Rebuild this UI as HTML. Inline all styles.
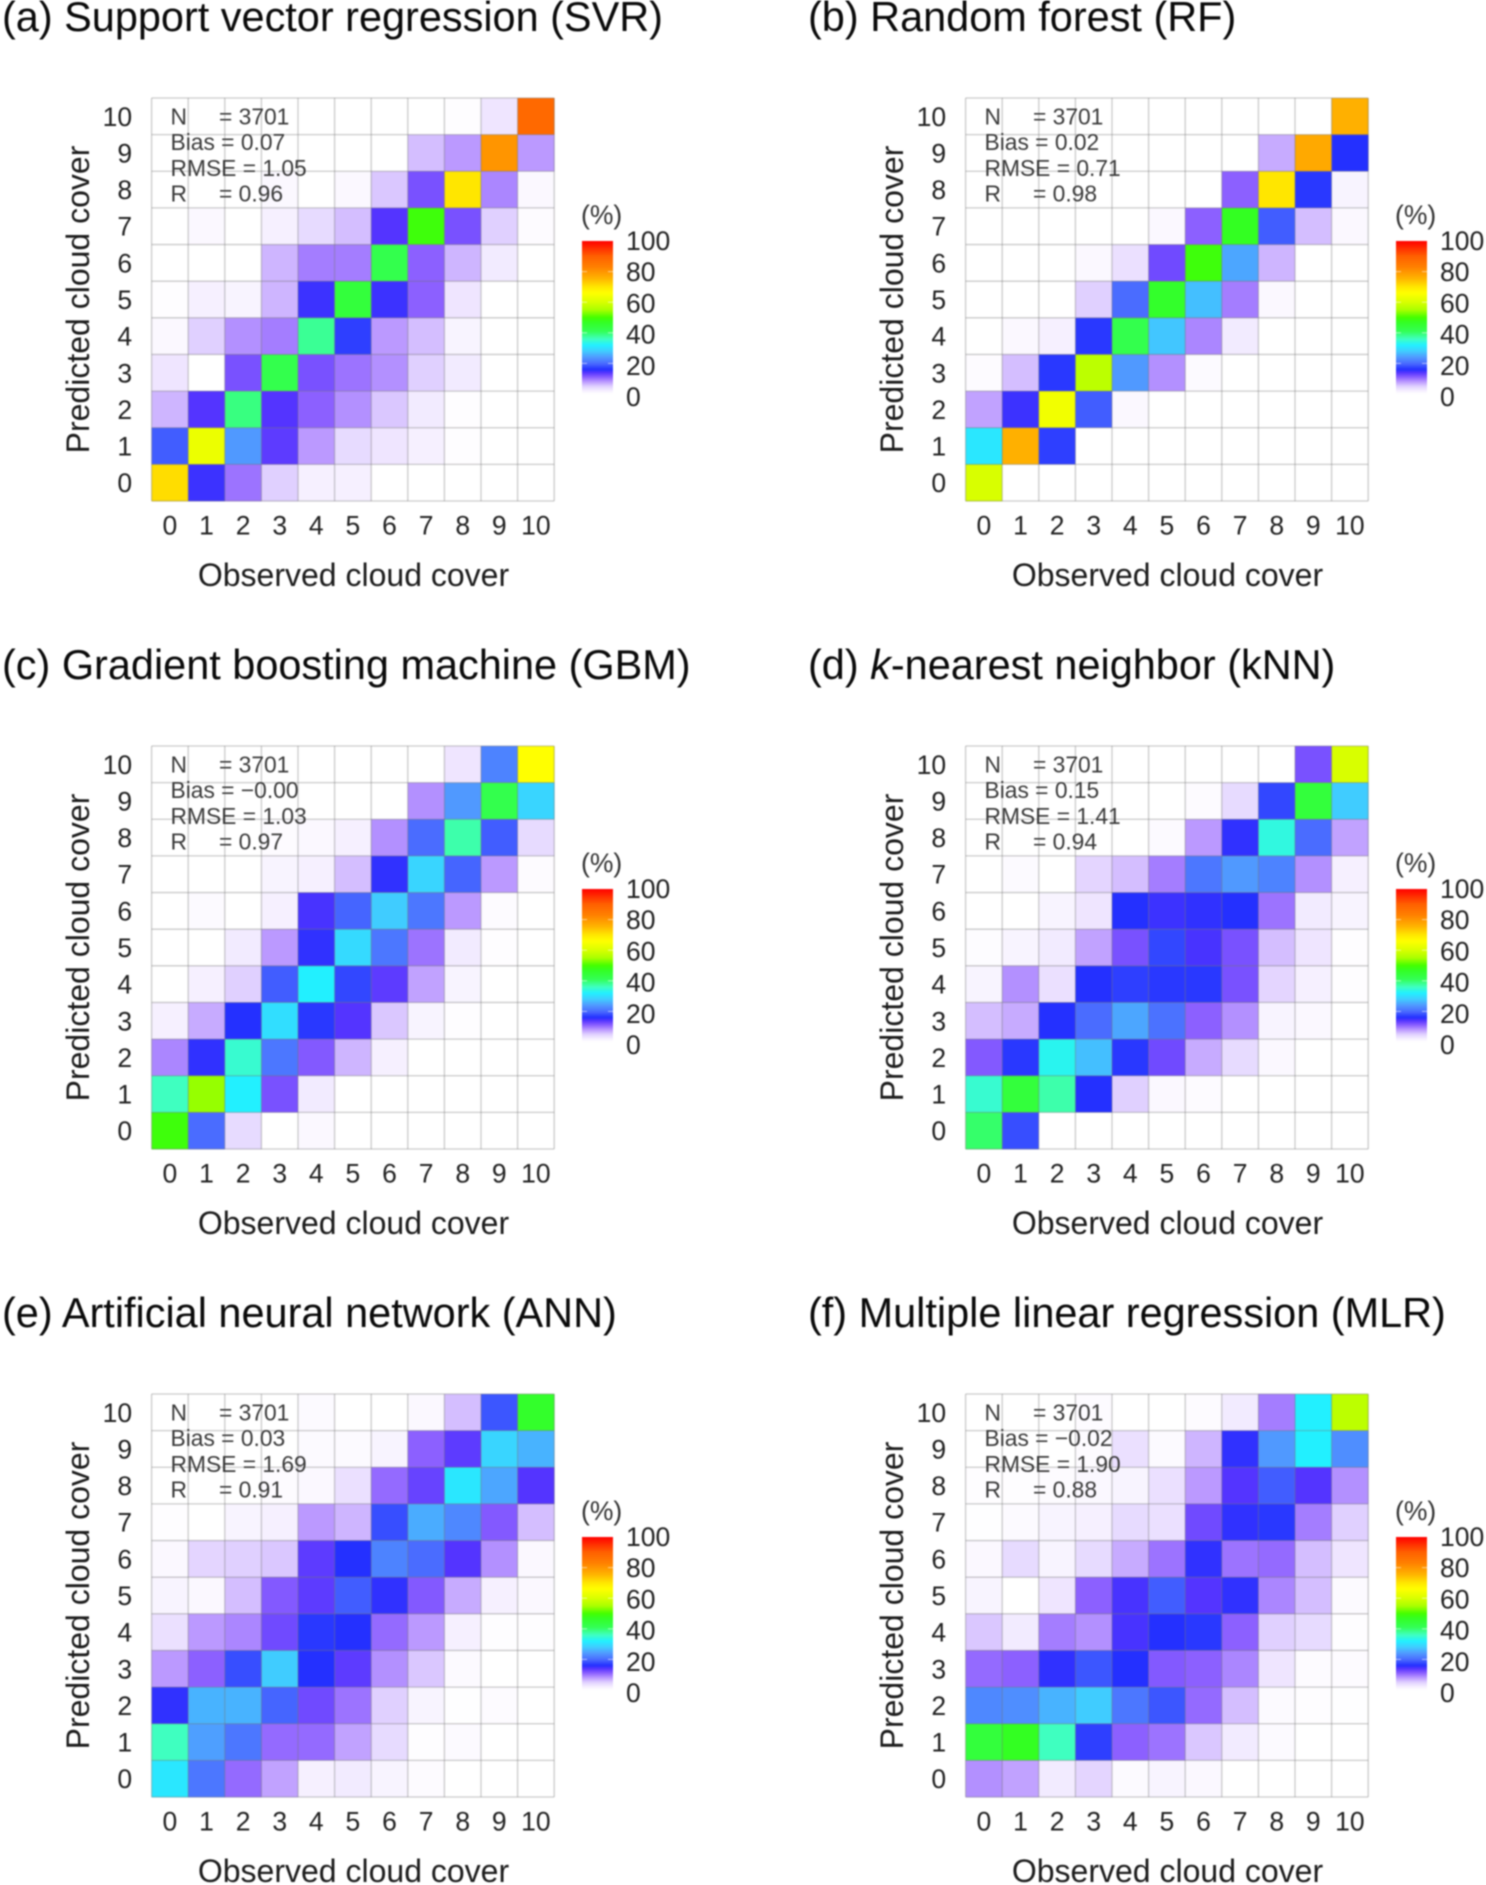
<!DOCTYPE html>
<html lang="en">
<head>
<meta charset="utf-8">
<title>Predicted vs observed cloud cover heatmaps</title>
<style>
html,body{margin:0;padding:0;background:#fff;}
body{width:1486px;height:1885px;overflow:hidden;}
svg{display:block;filter:blur(.7px);font-family:"Liberation Sans",Arial,sans-serif;}
.title{font-size:41.45px;fill:#0a0a0a;}
.axis-title{font-size:32px;fill:#1c1c1c;}
.tick{font-size:26.5px;fill:#222;}
.stat{font-size:22.8px;fill:#3a3a3a;}
.unit{font-size:26.5px;fill:#333;}
</style>
</head>
<body>
<svg id="fig" xmlns="http://www.w3.org/2000/svg" width="1486" height="1885" viewBox="0 0 1486 1885">
<defs id="defs"></defs>
<rect width="1486" height="1885" fill="#fff"/>

<g id="panel-a" transform="translate(0,0)">
  <g class="marks"></g>
  <text class="title" x="2" y="31">(a) Support vector regression (SVR)</text>
  <text class="stat" x="170.5" y="124.5">N</text><text class="stat" x="219" y="124.5">= 3701</text>
  <text class="stat" x="170.5" y="150">Bias = 0.07</text>
  <text class="stat" x="170.5" y="176">RMSE = 1.05</text>
  <text class="stat" x="170.5" y="201.5">R</text><text class="stat" x="219" y="201.5">= 0.96</text>
  <text class="axis-title" x="353.5" y="586" text-anchor="middle">Observed cloud cover</text>
  <text class="axis-title" transform="translate(89,299.5) rotate(-90)" text-anchor="middle">Predicted cloud cover</text>
  <text class="unit" x="581" y="224">(%)</text>
</g>

<g id="panel-b" transform="translate(814,0)">
  <g class="marks"></g>
  <text class="title" x="-6" y="31">(b) Random forest (RF)</text>
  <text class="stat" x="170.5" y="124.5">N</text><text class="stat" x="219" y="124.5">= 3701</text>
  <text class="stat" x="170.5" y="150">Bias = 0.02</text>
  <text class="stat" x="170.5" y="176">RMSE = 0.71</text>
  <text class="stat" x="170.5" y="201.5">R</text><text class="stat" x="219" y="201.5">= 0.98</text>
  <text class="axis-title" x="353.5" y="586" text-anchor="middle">Observed cloud cover</text>
  <text class="axis-title" transform="translate(89,299.5) rotate(-90)" text-anchor="middle">Predicted cloud cover</text>
  <text class="unit" x="581" y="224">(%)</text>
</g>

<g id="panel-c" transform="translate(0,648)">
  <g class="marks"></g>
  <text class="title" x="2" y="31">(c) Gradient boosting machine (GBM)</text>
  <text class="stat" x="170.5" y="124.5">N</text><text class="stat" x="219" y="124.5">= 3701</text>
  <text class="stat" x="170.5" y="150">Bias = −0.00</text>
  <text class="stat" x="170.5" y="176">RMSE = 1.03</text>
  <text class="stat" x="170.5" y="201.5">R</text><text class="stat" x="219" y="201.5">= 0.97</text>
  <text class="axis-title" x="353.5" y="586" text-anchor="middle">Observed cloud cover</text>
  <text class="axis-title" transform="translate(89,299.5) rotate(-90)" text-anchor="middle">Predicted cloud cover</text>
  <text class="unit" x="581" y="224">(%)</text>
</g>

<g id="panel-d" transform="translate(814,648)">
  <g class="marks"></g>
  <text class="title" x="-6" y="31">(d) <tspan font-style="italic">k</tspan>-nearest neighbor (kNN)</text>
  <text class="stat" x="170.5" y="124.5">N</text><text class="stat" x="219" y="124.5">= 3701</text>
  <text class="stat" x="170.5" y="150">Bias = 0.15</text>
  <text class="stat" x="170.5" y="176">RMSE = 1.41</text>
  <text class="stat" x="170.5" y="201.5">R</text><text class="stat" x="219" y="201.5">= 0.94</text>
  <text class="axis-title" x="353.5" y="586" text-anchor="middle">Observed cloud cover</text>
  <text class="axis-title" transform="translate(89,299.5) rotate(-90)" text-anchor="middle">Predicted cloud cover</text>
  <text class="unit" x="581" y="224">(%)</text>
</g>

<g id="panel-e" transform="translate(0,1296)">
  <g class="marks"></g>
  <text class="title" x="2" y="31">(e) Artificial neural network (ANN)</text>
  <text class="stat" x="170.5" y="124.5">N</text><text class="stat" x="219" y="124.5">= 3701</text>
  <text class="stat" x="170.5" y="150">Bias = 0.03</text>
  <text class="stat" x="170.5" y="176">RMSE = 1.69</text>
  <text class="stat" x="170.5" y="201.5">R</text><text class="stat" x="219" y="201.5">= 0.91</text>
  <text class="axis-title" x="353.5" y="586" text-anchor="middle">Observed cloud cover</text>
  <text class="axis-title" transform="translate(89,299.5) rotate(-90)" text-anchor="middle">Predicted cloud cover</text>
  <text class="unit" x="581" y="224">(%)</text>
</g>

<g id="panel-f" transform="translate(814,1296)">
  <g class="marks"></g>
  <text class="title" x="-6" y="31">(f) Multiple linear regression (MLR)</text>
  <text class="stat" x="170.5" y="124.5">N</text><text class="stat" x="219" y="124.5">= 3701</text>
  <text class="stat" x="170.5" y="150">Bias = −0.02</text>
  <text class="stat" x="170.5" y="176">RMSE = 1.90</text>
  <text class="stat" x="170.5" y="201.5">R</text><text class="stat" x="219" y="201.5">= 0.88</text>
  <text class="axis-title" x="353.5" y="586" text-anchor="middle">Observed cloud cover</text>
  <text class="axis-title" transform="translate(89,299.5) rotate(-90)" text-anchor="middle">Predicted cloud cover</text>
  <text class="unit" x="581" y="224">(%)</text>
</g>
</svg>

<script>
// Categories and tick labels
const cloudCategories = [0,1,2,3,4,5,6,7,8,9,10];
const colorbarTicks = [100,80,60,40,20,0];

// Percent per cell. Rows run from predicted 10 (first) down to predicted 0 (last);
// columns run from observed 0 to observed 10.
const valuesSVR = [
 [0,0,0,0,0,0,0,0,.3,3,88],
 [0,0,0,0,0,0,0,6,8,80,8],
 [0,0,0,1,0,1,5.5,12,70,9,1],
 [0,1,0,2,4,6,14,49,12,5,.5],
 [0,0,0,6.5,9.5,9.5,42,11,6.5,2.5,0],
 [.3,2,1.5,6.5,15,44,15,11,3,0,0],
 [1,5,8.5,9.5,38,17,8,6,1.5,0,0],
 [3,0,12,42,12,10,8.5,5,2.5,0,0],
 [6.5,14,39,14,11,8.5,5.5,2.5,.3,0,0],
 [19,63,24,13.5,8,4,3,2,.3,0,0],
 [71,15,10,5,2,2,0,0,0,0,0]
];
const valuesRF = [
 [0,0,0,0,0,0,0,0,0,0,76],
 [0,0,0,0,0,0,0,0,7,77,16],
 [0,0,0,0,0,0,0,11,70,16.5,1.5],
 [0,0,0,0,0,1,11,47,19,6,1],
 [0,0,0,1,3.5,12.5,49,25,6.5,0,0],
 [0,0,0,5,20,46,27,9.5,1,0,0],
 [0,1,2,16.5,42,27.5,9,2.5,0,0,0],
 [.5,6,16.5,57,24,8.5,.7,0,0,0,0],
 [7.5,15,64,19,1,0,0,0,0,0,0],
 [31,76,17,0,0,0,0,0,0,0,0],
 [60,0,0,0,0,0,0,0,0,0,0]
];
const valuesGBM = [
 [0,0,0,0,0,0,0,0,3,22,66],
 [0,0,0,0,0,0,0,8.5,24,42,29],
 [0,0,0,.5,1,2,8.5,20,37,19,4],
 [0,0,0,1.5,2,6,15.5,29,19.5,8,.5],
 [0,.7,0,2,14.5,19.5,28,21,8,.5,0],
 [0,0,2.5,8,15.5,29.5,21,10,2.5,.3,0],
 [0,2,5,19,32,17.5,13.5,7.5,1.5,0,0],
 [2,7,16,30,16.5,14,5.5,1.5,.3,0,0],
 [9,15.5,35,21,11.5,6.5,2,0,0,0,0],
 [36,54,32,12,2.5,0,0,0,0,0,0],
 [49,20,4,0,1,0,0,0,0,0,0]
];
const valuesKNN = [
 [0,0,0,0,0,0,0,0,0,12,60],
 [0,0,0,0,0,0,.5,4,17.5,44,28],
 [0,0,0,0,0,.7,8,15.5,34,20,7.5],
 [0,.7,0,4.5,6,9.5,21,24,22,8.5,2],
 [0,0,1.5,3,16,15,15.5,16,10,2.5,1.5],
 [.4,1.5,2.5,7.5,12,17.5,14.5,12,6,3,.3],
 [1.5,8.5,3.5,16,17,16.5,16.5,12,4.5,2,.3],
 [6,7,16,20,25,20.5,11,8.5,1.5,1,0],
 [11.5,16.5,33,27,16.5,12.5,7,4,1,0,0],
 [35,44,37,16,5,1,.5,0,0,0,0],
 [40,18,0,0,0,0,0,0,0,0,0]
];
const valuesANN = [
 [0,0,0,0,.7,0,0,1,6,18.5,46],
 [0,0,0,0,.7,.7,1.5,11,13.5,29,26],
 [0,0,0,.5,1,3.5,10.5,13,31,25,14],
 [.3,0,1.5,2,8,6.5,18,25.5,22.5,11.5,6],
 [1,4.5,5,5.5,13.5,16,22,20,14,8.5,1],
 [1.5,1,6,11.5,13.5,19,15.5,11.5,7,2,1],
 [3.5,8,9,12.5,16.5,16,10.5,8,2,.3,.3],
 [8,11,18,28,16,13.5,8.5,5.5,.7,0,0],
 [15.5,26,26,19.5,12.5,10,5,1.5,.2,.5,0],
 [36,24.5,21,10.5,10.5,7.5,4,.3,.7,0,0],
 [31,21,10.5,7.5,2,2.5,1.5,.5,0,0,0]
];
const valuesMLR = [
 [0,0,0,.5,0,0,.5,2.5,9.5,32,57],
 [0,0,0,.5,3.5,.7,6.5,15.5,24,32,23],
 [.3,.3,.5,1,1.5,3.5,8,14,19,14,8.5],
 [.2,.7,1.5,2,4,3.5,12.5,15.5,16.5,9.5,5],
 [1,4,1.5,4,7,10,15.5,10,10.5,6,3],
 [1.5,0,3,11,14.5,19,14,15.5,9,6,.7],
 [5.5,2.5,9.5,8.5,14.5,16,16.5,11,5,4,.3],
 [10.5,11,15.5,18.5,16,11.5,11,9,3,.5,.5],
 [22.5,23,26,28,21,18.5,10.5,6,.7,.3,.2],
 [44,47,36,17,11,10,5.5,2.5,.7,0,0],
 [8.5,7.5,2.5,4.5,.7,1.5,1,0,0,0,0]
];

// Colour scale breakpoints
const scaleValues = [0,2,5,8,11,14,16,20,24,28,32,36,41,47,50,55,60,66,70,76,83,90,100];
const scaleColors = ["#ffffff","#f6f0ff","#e0d0ff","#bb99ff","#8c60ff","#5434ff","#2430ff","#4a6cff","#5099ff","#40ccff","#22f0ff","#3fffc0","#33ff55","#33ff22","#44ff00","#aaff00","#d8ff00","#ffff00","#ffe600","#ffb000","#ff8000","#ff6000","#ff0000"];

const NS = "http://www.w3.org/2000/svg";
const plotLeft = 151.6, plotTop = 98, plotWidth = 402.6, plotHeight = 403;
const barLeft = 582, barWidth = 31, barBottom = 394, barHeight = 153;
const cats = cloudCategories.length;

function xAxis(i){ return plotLeft + i * plotWidth / cats; }
function yAxis(i){ return plotTop + (cats - 1 - i) * plotHeight / cats; }
function barAxis(v){ return barBottom - v / 100 * barHeight; }

function hexToRgb(h){ return [1,3,5].map(function(k){ return parseInt(h.substr(k,2),16); }); }
function colorFor(v){
  if(v <= scaleValues[0]) return scaleColors[0];
  for(let k = 1; k < scaleValues.length; k++){
    if(v <= scaleValues[k]){
      const t = (v - scaleValues[k-1]) / (scaleValues[k] - scaleValues[k-1]);
      const a = hexToRgb(scaleColors[k-1]), b = hexToRgb(scaleColors[k]);
      return "rgb(" + a.map(function(c,n){ return Math.round(c + (b[n]-c)*t); }).join(",") + ")";
    }
  }
  return scaleColors[scaleColors.length-1];
}
function make(tag, parent, props, text){
  const el = document.createElementNS(NS, tag);
  for(const p in props){ el.setAttribute(p, props[p]); }
  if(text !== undefined){ el.textContent = text; }
  parent.appendChild(el);
  return el;
}

// Shared colour-bar gradient
const defs = document.getElementById("defs");
const grad = make("linearGradient", defs, {id:"bar-gradient", x1:0, y1:1, x2:0, y2:0});
scaleValues.forEach(function(v, k){
  make("stop", grad, {offset:(v/100), "stop-color":scaleColors[k]});
});

function drawPanel(panelId, key, rows){
  const panel = document.getElementById(panelId);
  const g = panel.querySelector(".marks");

  rows.forEach(function(row, r){
    const pred = cats - 1 - r;
    row.forEach(function(v, obs){
      const cell = make("rect", g, {x:xAxis(obs), y:yAxis(pred), width:plotWidth/cats + .3, height:plotHeight/cats + .3, fill:colorFor(v)});
      
      
    });
  });

  for(let i = 0; i <= cats; i++){
    const vx = plotLeft + i * plotWidth / cats;
    const vLine = make("line", g, {x1:vx, x2:vx, y1:plotTop, y2:plotTop+plotHeight, stroke:"#777", "stroke-opacity":.38, "stroke-width":1.3});
    
    
    const hy = plotTop + i * plotHeight / cats;
    const hLine = make("line", g, {x1:plotLeft, x2:plotLeft+plotWidth, y1:hy, y2:hy, stroke:"#777", "stroke-opacity":.38, "stroke-width":1.3});
    
    
  }

  cloudCategories.forEach(function(c, i){
    const xt = make("text", g, {class:"tick", x:xAxis(i)+plotWidth/cats/2, y:plotTop+plotHeight+33.5, "text-anchor":"middle"}, c);
    
    
    const yt = make("text", g, {class:"tick", x:plotLeft-19.5, y:yAxis(i)+plotHeight/cats/2+9.5, "text-anchor":"end"}, c);
    
    
  });

  const bar = make("rect", g, {x:barLeft, y:barBottom-barHeight, width:barWidth, height:barHeight, fill:"url(#bar-gradient)"});
  
  

  colorbarTicks.forEach(function(t){
    const label = make("text", g, {class:"tick", x:626, y:barAxis(100) + 9 + (100-t)/100*156}, t);
    
    
    if(t > 0 && t < 100){
      [barLeft, barLeft+barWidth-5].forEach(function(mx){
        const mark = make("rect", g, {x:mx, y:barAxis(t)-.5, width:5, height:1, fill:"#fff", "fill-opacity":.55});
        
        
      });
    }
  });
}

drawPanel("panel-a", "svr", valuesSVR);
drawPanel("panel-b", "rf", valuesRF);
drawPanel("panel-c", "gbm", valuesGBM);
drawPanel("panel-d", "knn", valuesKNN);
drawPanel("panel-e", "ann", valuesANN);
drawPanel("panel-f", "mlr", valuesMLR);
</script>
</body>
</html>
